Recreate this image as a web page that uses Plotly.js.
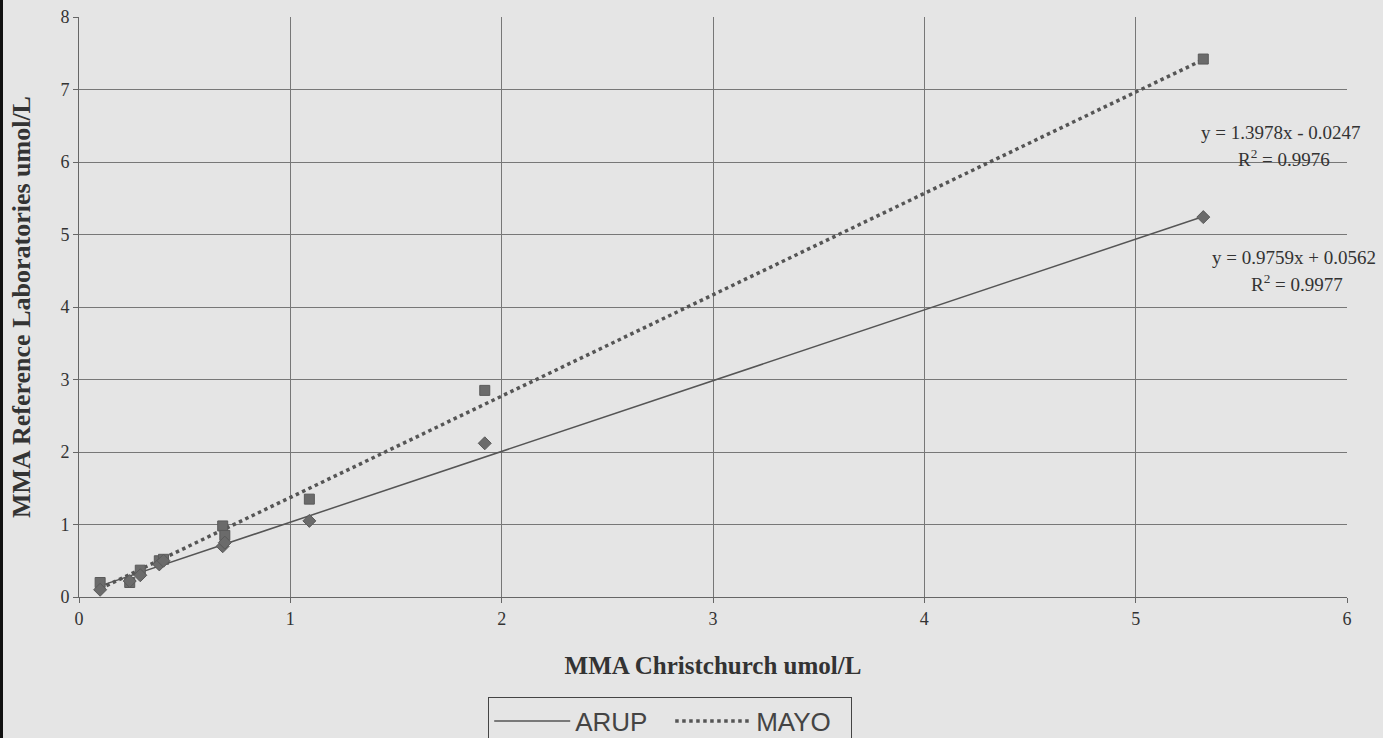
<!DOCTYPE html>
<html><head><meta charset="utf-8">
<script src="https://cdn.plot.ly/plotly-3.0.1.min.js"></script>
<style>html,body{margin:0;padding:0;background:#e5e5e5;}#wrap{border-left:3px solid #111;width:1380px;height:738px;}#chart{width:1380px;height:738px;}</style>
</head><body><div id="wrap"><div id="chart"></div></div>
<script>
// Data
var christchurch = [0.1, 0.24, 0.29, 0.38, 0.4, 0.68, 0.69, 1.09, 1.92, 5.32];
var arup = [0.1, 0.22, 0.3, 0.45, 0.5, 0.7, 0.75, 1.05, 2.12, 5.24];
var mayo = [0.2, 0.2, 0.37, 0.5, 0.52, 0.98, 0.85, 1.35, 2.85, 7.42];
var arupFit = {slope: 0.9759, intercept: 0.0562, r2: "0.9977"};
var mayoFit = {slope: 1.3978, intercept: -0.0247, r2: "0.9976"};
var seriesNames = ["ARUP", "MAYO"];

var xmin = Math.min.apply(null, christchurch), xmax = Math.max.apply(null, christchurch);
function fitLine(f){ return [xmin, xmax].map(function(x){ return f.slope*x + f.intercept; }); }

var traces = [
  {x:[xmin,xmax], y:fitLine(arupFit), mode:'lines', name:seriesNames[0], line:{color:'#555', width:1.5}, hoverinfo:'skip'},
  {x:[xmin,xmax], y:fitLine(mayoFit), mode:'lines', name:seriesNames[1], line:{color:'#555', width:3.5, dash:'dot'}, hoverinfo:'skip'},
  {x:christchurch, y:mayo, mode:'markers', showlegend:false, marker:{symbol:'square', size:10, color:'#6b6b6b', line:{color:'#5a5a5a', width:1}}},
  {x:christchurch, y:arup, mode:'markers', showlegend:false, marker:{symbol:'diamond', size:10, color:'#6b6b6b', line:{color:'#5a5a5a', width:1}}}
];

var serif = 'Liberation Serif, DejaVu Serif, serif';
var annFont = {family:serif, size:19, color:'#333'};
var layout = {
  width:1380, height:738,
  paper_bgcolor:'#e5e5e5', plot_bgcolor:'#e5e5e5',
  margin:{l:76, r:36, t:17, b:141},
  font:{family:serif, color:'#333'},
  xaxis:{range:[0,6], dtick:1, tick0:0, showgrid:true, gridcolor:'#777', gridwidth:1, zeroline:false, automargin:false,
    showline:true, linecolor:'#666', ticks:'outside', ticklen:5, tickcolor:'#666',
    tickfont:{family:serif, size:18, color:'#333'},
    title:{text:'<b>MMA Christchurch umol/L</b>', font:{family:serif, size:25, color:'#333'}, standoff:28}},
  yaxis:{range:[0,8], dtick:1, tick0:0, showgrid:true, gridcolor:'#777', gridwidth:1, zeroline:false, automargin:false,
    showline:true, linecolor:'#666', ticks:'outside', ticklen:5, tickcolor:'#666',
    tickfont:{family:serif, size:18, color:'#333'},
    title:{text:'<b>MMA Reference Laboratories umol/L</b>', font:{family:serif, size:26, color:'#333'}, standoff:22}},
  showlegend:true,
  legend:{orientation:'h', xref:'container', yref:'container', x:0.3516, xanchor:'left', y:0.056, yanchor:'top',
    bgcolor:'#e5e5e5', bordercolor:'#444', borderwidth:1,
    font:{family:'Liberation Sans, Arial, sans-serif', size:26, color:'#444'}, itemwidth:76,
    entrywidth:90, entrywidthmode:'pixels', tracegroupgap:0, valign:'top'},
  annotations:[
    {xref:'paper', yref:'paper', x:1.0126, y:0.8017, xanchor:'right', yanchor:'middle', showarrow:false,
      text:'y = '+mayoFit.slope+'x - '+Math.abs(mayoFit.intercept), font:annFont},
    {xref:'paper', yref:'paper', x:0.988, y:0.757, xanchor:'right', yanchor:'middle', showarrow:false,
      text:'R<sup>2</sup> = '+mayoFit.r2, font:annFont},
    {xref:'paper', yref:'paper', x:1.0244, y:0.5845, xanchor:'right', yanchor:'middle', showarrow:false,
      text:'y = '+arupFit.slope+'x + '+arupFit.intercept, font:annFont},
    {xref:'paper', yref:'paper', x:0.9984, y:0.541, xanchor:'right', yanchor:'middle', showarrow:false,
      text:'R<sup>2</sup> = '+arupFit.r2, font:annFont}
  ]
};
Plotly.newPlot('chart', traces, layout, {displayModeBar:false, staticPlot:true});
</script></body></html>
